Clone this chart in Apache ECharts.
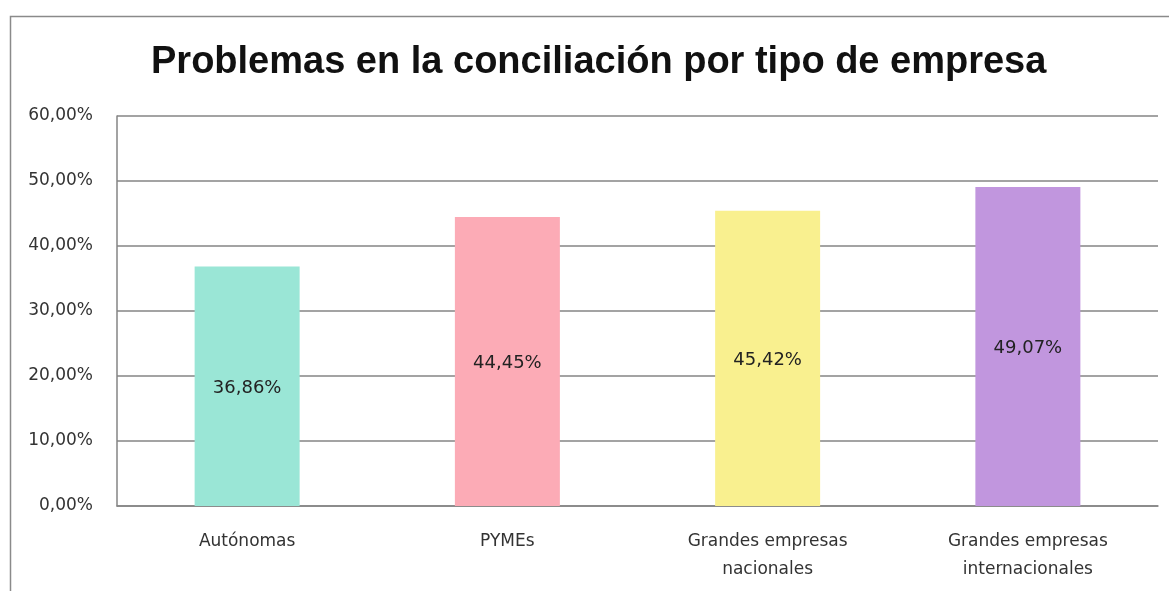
<!DOCTYPE html>
<html style="height: 100%">
<head>
    <meta charset="utf-8">
</head>
<body style="height: 100%; margin: 0">
<div id="container" style="width: 1169px; height: 591px"></div>
<script type="text/javascript" src="https://cdn.jsdelivr.net/npm/echarts@6/dist/echarts.min.js"></script>
<script type="text/javascript">
    // datos del gráfico
    var categorias = ['Autónomas', 'PYMEs', 'Grandes empresas\nnacionales', 'Grandes empresas\ninternacionales'];
    var valores = [36.86, 44.45, 45.42, 49.07];
    var colores = ['#9ae6d6', '#fcabb6', '#f9f08f', '#c196de'];
    var ticksY = [0, 10, 20, 30, 40, 50, 60];

    function fmt(v) {
        return v.toFixed(2).replace('.', ',') + '%';
    }

    var dom = document.getElementById("container");
    var myChart = echarts.init(dom);
    var option = {
        backgroundColor: '#ffffff',
        animation: false,
        title: {
            text: 'Problemas en la conciliación por tipo de empresa',
            left: 146,
            top: 39,
            textStyle: {
                fontFamily: 'Liberation Sans',
                fontWeight: 'bold',
                fontSize: 38,
                color: '#111111'
            }
        },
        graphic: [{
            type: 'rect',
            left: 8,
            top: 14,
            shape: {width: 1200, height: 620},
            style: {fill: 'none', stroke: '#8a8a8a', lineWidth: 1.5}
        }],
        grid: {
            left: 117,
            right: 11,
            top: 116,
            bottom: 85
        },
        xAxis: {
            type: 'category',
            data: categorias,
            axisLine: {lineStyle: {color: '#858585', width: 1.5}},
            axisTick: {show: false},
            axisLabel: {
                fontFamily: 'DejaVu Sans',
                fontSize: 17,
                color: '#333333',
                lineHeight: 28,
                margin: 22
            }
        },
        yAxis: {
            type: 'value',
            min: ticksY[0],
            max: ticksY[ticksY.length - 1],
            interval: 10,
            axisLine: {show: true, lineStyle: {color: '#858585', width: 1.5}},
            axisTick: {show: false},
            splitLine: {lineStyle: {color: '#858585', width: 1.5}},
            axisLabel: {
                fontFamily: 'DejaVu Sans',
                fontSize: 17,
                color: '#333333',
                margin: 24,
                formatter: function (v) { return fmt(v); }
            }
        },
        series: [{
            type: 'bar',
            barWidth: 105,
            data: valores.map(function (v, i) {
                return {value: v, itemStyle: {color: colores[i]}};
            }),
            label: {
                show: true,
                position: 'inside',
                offset: [0, 2],
                fontFamily: 'DejaVu Sans',
                fontSize: 18,
                color: '#222222',
                formatter: function (p) { return fmt(p.value); }
            }
        }]
    };
    myChart.setOption(option);
</script>
</body>
</html>
